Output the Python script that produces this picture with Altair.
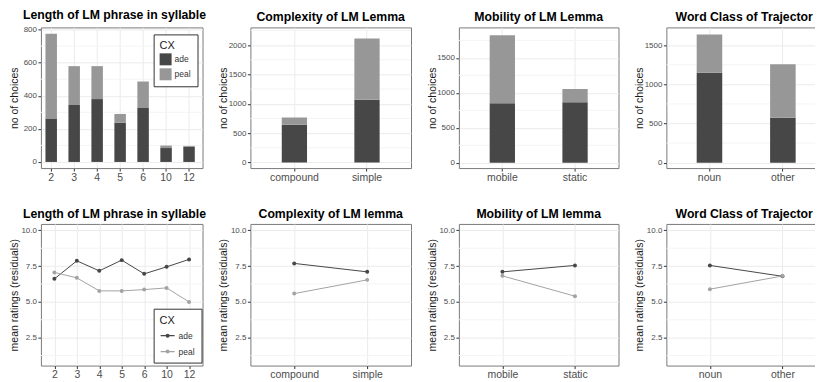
import altair as alt
import pandas as pd

FONT = "Liberation Sans"
CX = ["ade", "peal"]
BAR_COLORS = ["#474747", "#979797"]
LINE_COLORS = ["#474747", "#a3a3a3"]

# ---- counts (top row) ----
len_cats = ["2", "3", "4", "5", "6", "10", "12"]
len_ade = [263, 344, 380, 237, 326, 84, 93]
len_peal = [511, 235, 199, 53, 160, 15, 4]
len_ticks = [0, 200, 400, 600, 800]
len_minor = [100, 300, 500, 700]
len_domain = [-37, 813]

cpx_cats = ["compound", "simple"]
cpx_ade = [644, 1068]
cpx_peal = [124, 1045]
cpx_ticks = [0, 500, 1000, 1500, 2000]
cpx_minor = [250, 750, 1250, 1750, 2250]
cpx_domain = [-95, 2300]

mob_cats = ["mobile", "static"]
mob_ade = [850, 864]
mob_peal = [973, 190]
mob_ticks = [0, 500, 1000, 1500]
mob_minor = [250, 750, 1250, 1750]
mob_domain = [-75, 1935]

wc_cats = ["noun", "other"]
wc_ade = [1148, 572]
wc_peal = [488, 682]
wc_ticks = [0, 500, 1000, 1500]
wc_minor = [250, 750, 1250]
wc_domain = [-68, 1725]

# ---- mean ratings (bottom row) ----
len_r_ade = [6.61, 7.87, 7.17, 7.92, 6.96, 7.45, 7.97]
len_r_peal = [7.06, 6.68, 5.77, 5.77, 5.86, 5.98, 5.00]
cpx_r_ade = [7.69, 7.10]
cpx_r_peal = [5.58, 6.54]
mob_r_ade = [7.10, 7.55]
mob_r_peal = [6.82, 5.40]
wc_r_ade = [7.55, 6.79]
wc_r_peal = [5.89, 6.81]
r_ticks = [2.5, 5.0, 7.5, 10.0]
r_minor = [1.25, 3.75, 6.25, 8.75]
r_domain = [0.55, 10.45]


def make_title(text, start=False, dx=0):
    kw = dict(text=text, font=FONT, fontSize=12.3, fontWeight="bold", color="#000000",
              offset=4, frame="group")
    if start:
        kw.update(anchor="start", dx=-18)
    else:
        kw.update(anchor="middle")
        if dx:
            kw["dx"] = dx
    return alt.TitleParams(**kw)


def y_axis(ticks, fmt):
    return alt.Axis(values=ticks, format=fmt, grid=True, labelFontSize=8, labelPadding=1.5,
                    titleX=-21.5, titleFontSize=10.5)


def x_axis(band):
    kw = dict(labelAngle=0, grid=True, labelFontSize=10.5, labelPadding=1)
    if band:
        kw["bandPosition"] = 0.5
    return alt.Axis(**kw)


def bar_panel(title, cats, ade, peal, ticks, minor, domain, width, pin, pout, align, legend,
              start=False, dx=0):
    n = len(cats)
    df = pd.DataFrame({"cat": cats * 2, "cx": ["ade"] * n + ["peal"] * n,
                       "n": ade + peal, "k": [0] * n + [1] * n})
    yscale = alt.Scale(domain=domain, nice=False, zero=False)
    yax = y_axis(ticks, "d")
    grid = alt.Chart(pd.DataFrame({"v": minor})).mark_rule(
        color="#F4F4F4", strokeWidth=1, clip=True
    ).encode(y=alt.Y("v:Q", scale=yscale, title="no of choices", axis=yax))
    bars = alt.Chart(df).mark_bar().encode(
        x=alt.X("cat:N", sort=cats, title=None,
                scale=alt.Scale(paddingInner=pin, paddingOuter=pout, align=align),
                axis=x_axis(True)),
        y=alt.Y("n:Q", stack="zero", scale=yscale, title="no of choices", axis=yax),
        color=alt.Color("cx:N", scale=alt.Scale(domain=CX, range=BAR_COLORS), legend=legend),
        order=alt.Order("k:Q"),
    )
    return alt.layer(grid, bars).properties(width=width, height=141,
                                            title=make_title(title, start, dx))


def line_panel(title, cats, ade, peal, width, legend, start=False, dx=0):
    n = len(cats)
    df = pd.DataFrame({"cat": cats * 2, "cx": ["ade"] * n + ["peal"] * n, "r": ade + peal})
    yscale = alt.Scale(domain=r_domain, nice=False, zero=False)
    yax = y_axis(r_ticks, ".1f")
    ytitle = "mean ratings (residuals)"
    grid = alt.Chart(pd.DataFrame({"v": r_minor})).mark_rule(
        color="#F4F4F4", strokeWidth=1, clip=True
    ).encode(y=alt.Y("v:Q", scale=yscale, title=ytitle, axis=yax))
    base = alt.Chart(df).encode(
        x=alt.X("cat:N", sort=cats, title=None, scale=alt.Scale(type="point", padding=0.6),
                axis=x_axis(False)),
        y=alt.Y("r:Q", scale=yscale, title=ytitle, axis=yax),
    )
    cscale = alt.Scale(domain=CX, range=LINE_COLORS)
    lines = base.mark_line(strokeWidth=1).encode(
        color=alt.Color("cx:N", scale=cscale, legend=legend))
    pts = base.mark_circle(size=16, opacity=1).encode(
        color=alt.Color("cx:N", scale=cscale, legend=legend))
    return alt.layer(grid, lines, pts).properties(width=width, height=142,
                                                  title=make_title(title, start, dx))


def legend(y, symbol, size, stroke_w):
    return alt.Legend(
        orient="none", legendX=113, legendY=y, title="CX", titleFontSize=11,
        titleFontWeight="normal", titleColor="#1a1a1a", titleFont=FONT, titlePadding=2,
        labelFontSize=8.5, labelFont=FONT, labelColor="#333333", labelOffset=3,
        symbolType=symbol, symbolSize=size, symbolStrokeWidth=stroke_w, rowPadding=3,
        padding=6, strokeColor="#333333", fillColor="#ffffff", cornerRadius=0,
    )


bar_legend = legend(7, "square", 144, 0)
line_legend = legend(85, "M-1,0H1M0.2,0A0.2,0.2,0,1,1,-0.2,0A0.2,0.2,0,1,1,0.2,0", 196, 1.2)

p1 = bar_panel("Length of LM phrase in syllable", len_cats, len_ade, len_peal, len_ticks,
               len_minor, len_domain, 162, 0.5, 0.267, 0.37, bar_legend, start=True)
p2 = bar_panel("Complexity of LM Lemma", cpx_cats, cpx_ade, cpx_peal, cpx_ticks,
               cpx_minor, cpx_domain, 161, 0.652, 0.432, 0.5, None)
p3 = bar_panel("Mobility of LM Lemma", mob_cats, mob_ade, mob_peal, mob_ticks,
               mob_minor, mob_domain, 160, 0.652, 0.4235, 0.5, None)
p4 = bar_panel("Word Class of Trajector", wc_cats, wc_ade, wc_peal, wc_ticks,
               wc_minor, wc_domain, 160, 0.652, 0.413, 0.5, None, dx=-2)

p5 = line_panel("Length of LM phrase in syllable", len_cats, len_r_ade, len_r_peal, 162,
                line_legend, start=True)
p6 = line_panel("Complexity of LM lemma", cpx_cats, cpx_r_ade, cpx_r_peal, 161, None)
p7 = line_panel("Mobility of LM lemma", mob_cats, mob_r_ade, mob_r_peal, 160, None)
p8 = line_panel("Word Class of Trajector", wc_cats, wc_r_ade, wc_r_peal, 160, None, dx=-2)

chart = alt.concat(
    p1, p2, p3, p4, p5, p6, p7, p8,
    columns=4, spacing={"row": 56, "column": 48}, bounds="flush", align="none",
).resolve_scale(
    color="independent"
).resolve_legend(
    color="independent"
).properties(
    padding={"left": 0, "top": 0, "right": -12, "bottom": 0},
    background="#ffffff",
).configure(font=FONT).configure_view(
    stroke="#7a7a7a", strokeWidth=1
).configure_axis(
    labelFont=FONT, titleFont=FONT, labelColor="#4d4d4d", tickColor="#333333",
    tickSize=3, tickWidth=1, domain=False, gridColor="#EBEBEB", gridWidth=1,
    titleFontWeight="normal", titleColor="#1a1a1a",
)

chart.save("out.html", embed_options={"renderer": "svg", "actions": False})
